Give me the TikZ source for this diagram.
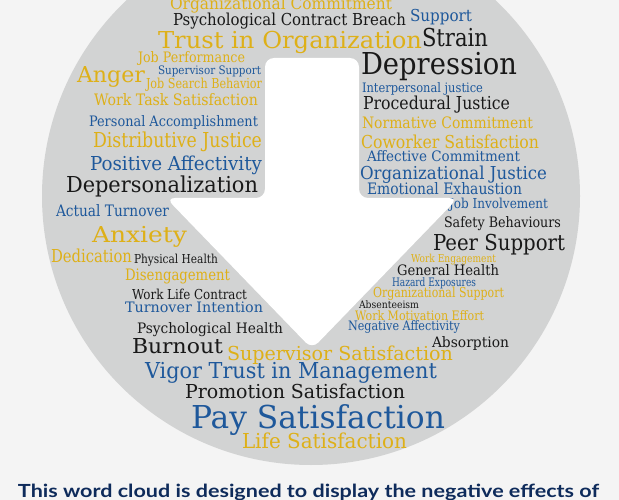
\documentclass[tikz,border=0pt]{standalone}
\usepackage{fontspec}
\usepackage{graphicx}
\setmainfont{DejaVu Serif}
\newfontfamily\capfont{Lato}
\definecolor{wgold}{RGB}{222,176,24}
\definecolor{wblue}{RGB}{30,88,155}
\definecolor{wblack}{RGB}{25,25,25}
\definecolor{wcirc}{RGB}{210,211,211}
\definecolor{wbg}{RGB}{244,244,244}
\definecolor{wnavy}{RGB}{14,43,91}
\newlength\wcw
% fitted text: target width, text (font already selected)
\newcommand\fitw[2]{\settowidth\wcw{#2}\pgfmathsetmacro\wcsx{#1/\wcw}\scalebox{\wcsx}[1]{#2}}
% name, x, baseline y, cap height, width, colour, text
\newcommand\wc[7]{%
  \pgfmathsetmacro\wcfs{#4/0.729}%
  \node[word, text=#6] (#1) at (#2,#3) {\fontsize{\wcfs pt}{\wcfs pt}\selectfont\fitw{#5}{#7}};%
}
\tikzset{word/.style={anchor=base west, inner sep=0pt, outer sep=0pt}}
\begin{document}
\begin{tikzpicture}[x=1pt,y=-1pt]
\clip (0,0) rectangle (619,500);
\fill[wbg] (0,0) rectangle (619,500);
\fill[wcirc] (311,196) circle[radius=269pt];
% words
\wc{orgcom}{170}{10}{12}{222}{wgold}{Organizational Commitment}
\wc{pcb}{173}{26}{12}{233}{wblack}{Psychological Contract Breach}
\wc{support}{410}{22}{12}{62}{wblue}{Support}
\wc{trustorg}{158}{49}{17}{264}{wgold}{Trust in Organization}
\wc{strain}{422}{47}{18}{66}{wblack}{Strain}
\wc{depression}{361}{75}{22}{156}{wblack}{Depression}
\wc{jobperf}{138}{63}{10.5}{107}{wgold}{Job Performance}
\wc{anger}{77}{83}{16}{68}{wgold}{Anger}
\wc{supsup}{158}{75}{8.5}{103}{wblue}{Supervisor Support}
\wc{jsb}{146}{89}{10}{116}{wgold}{Job Search Behavior}
\wc{wts}{94}{106}{11.5}{164}{wgold}{Work Task Satisfaction}
\wc{pa}{89}{127}{10.5}{169}{wblue}{Personal Accomplishment}
\wc{dj}{93}{148}{15}{169}{wgold}{Distributive Justice}
\wc{ij}{362}{93}{9.5}{121}{wblue}{Interpersonal justice}
\wc{pj}{363}{110}{13}{147}{wblack}{Procedural Justice}
\wc{nc}{362}{129}{11.5}{171}{wgold}{Normative Commitment}
\wc{cs}{361}{149}{13}{178}{wgold}{Coworker Satisfaction}
\wc{ac}{367}{162}{10.5}{153}{wblue}{Affective Commitment}
\wc{oj}{360}{180}{13}{187}{wblue}{Organizational Justice}
\wc{ee}{367}{195}{11.5}{155}{wblue}{Emotional Exhaustion}
\wc{ji}{449}{208}{10}{99}{wblue}{Job Involvement}
\wc{sb}{444}{228}{10.5}{117}{wblack}{Safety Behaviours}
\wc{ps}{433}{251}{16}{132}{wblack}{Peer Support}
\wc{we}{411}{262}{8}{85}{wgold}{Work Engagement}
\wc{gh}{397}{276}{10.5}{102}{wblack}{General Health}
\wc{he}{392}{286}{8.5}{84}{wblue}{Hazard Exposures}
\wc{os}{373}{297}{10}{131}{wgold}{Organizational Support}
\wc{abs}{359}{308}{7.5}{60}{wblack}{Absenteeism}
\wc{wme}{355}{320}{9.5}{129}{wgold}{Work Motivation Effort}
\wc{na}{348}{330}{9.5}{112}{wblue}{Negative Affectivity}
\wc{absorp}{432}{347}{10.5}{77}{wblack}{Absorption}
\wc{burnout}{132}{353}{15}{91}{wblack}{Burnout}
\wc{supsat}{227}{360}{14}{226}{wgold}{Supervisor Satisfaction}
\wc{vigor}{145}{378}{16}{292}{wblue}{Vigor Trust in Management}
\wc{promo}{185}{398}{14}{220}{wblack}{Promotion Satisfaction}
\wc{pay}{191}{428}{23}{254}{wblue}{Pay Satisfaction}
\wc{life}{242}{448}{15}{165}{wgold}{Life Satisfaction}
\wc{psyh}{137}{333}{10.5}{146}{wblack}{Psychological Health}
\wc{posaff}{90}{171}{14}{172}{wblue}{Positive Affectivity}
\wc{deper}{66}{193}{16}{192}{wblack}{Depersonalization}
\wc{at}{56}{217}{11.5}{113}{wblue}{Actual Turnover}
\wc{anx}{92}{243}{16}{95}{wgold}{Anxiety}
\wc{ded}{51}{262}{13}{81}{wgold}{Dedication}
\wc{ph}{134}{263}{9}{84}{wblack}{Physical Health}
\wc{dis}{125}{280}{11.5}{105}{wgold}{Disengagement}
\wc{wlc}{132}{299}{10}{115}{wblack}{Work Life Contract}
\wc{ti}{125}{312}{10.5}{138}{wblue}{Turnover Intention}
% arrow
\fill[white, rounded corners=9pt] (265,58) -- (359,58) -- (359,198) -- (458,198) -- (312,349) -- (166,198) -- (265,198) -- cycle;
% caption
\pgfmathsetmacro\capfs{13/0.72}
\node[word, text=wnavy] (caption) at (18,497) {\capfont\bfseries\fontsize{\capfs pt}{\capfs pt}\selectfont\fitw{581}{This word cloud is designed to display the negative effects of}};
\end{tikzpicture}
\end{document}
